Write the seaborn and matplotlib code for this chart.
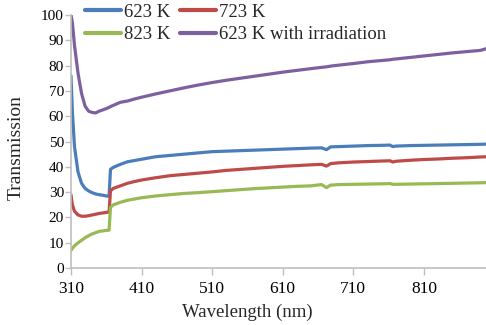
import matplotlib
matplotlib.use("Agg")
import matplotlib.pyplot as plt
import seaborn as sns
import pandas as pd
from matplotlib.lines import Line2D

wavelength = [310, 312, 315, 320, 325, 330, 335, 340, 345, 350, 355, 360, 364, 366, 370, 380, 390, 400, 410,
              430, 450, 470, 490, 510, 530, 550, 570, 590, 610, 630, 650, 665, 672, 678, 690, 710, 730, 750,
              762, 766, 770, 790, 810, 830, 850, 870, 890, 900]

t623 = [76, 62, 48, 38, 33.5, 31.5, 30.5, 29.8, 29.3, 29, 28.8, 28.5, 28.4, 39, 39.8, 41, 42, 42.5, 43,
        44, 44.5, 45, 45.5, 46, 46.2, 46.4, 46.6, 46.8, 47, 47.2, 47.4, 47.5, 46.8, 47.9, 48, 48.2, 48.4, 48.5,
        48.6, 48.0, 48.2, 48.4, 48.5, 48.6, 48.7, 48.8, 48.9, 49]
t723 = [29, 25, 22.5, 21, 20.5, 20.5, 20.7, 21, 21.3, 21.6, 21.8, 22, 22.2, 30.5, 31.5, 32.5, 33.5, 34.2, 34.8,
        35.7, 36.5, 37, 37.5, 38, 38.6, 39, 39.4, 39.8, 40.2, 40.5, 40.8, 41, 40.3, 41.3, 41.6, 41.9, 42.1, 42.3,
        42.4, 41.9, 42.2, 42.6, 42.9, 43.1, 43.4, 43.6, 43.9, 44]
t823 = [7, 7.8, 8.8, 10, 11, 12, 12.8, 13.5, 14, 14.5, 14.7, 14.9, 15.0, 24, 25, 26, 26.8, 27.3, 27.8,
        28.5, 29, 29.5, 29.8, 30.2, 30.6, 31, 31.4, 31.7, 32, 32.3, 32.5, 33, 31.8, 32.8, 33, 33.1, 33.2, 33.3,
        33.4, 33.1, 33.1, 33.2, 33.3, 33.4, 33.5, 33.6, 33.7, 33.8]
t623_irr = [100, 97, 88, 77, 69, 64, 62, 61.5, 61.3, 62, 62.5, 63, 63.5, 63.8, 64.3, 65.5, 66, 66.8, 67.5,
            68.8, 70, 71.2, 72.3, 73.3, 74.2, 75, 75.8, 76.6, 77.4, 78.1, 78.8, 79.3, 79.5, 79.8, 80.2, 80.8, 81.5, 82,
            82.3, 82.5, 82.6, 83.2, 83.8, 84.4, 85, 85.5, 86, 86.8]

series_names = ["623 K", "723 K", "823 K", "623 K with irradiation"]
series_values = [t623, t723, t823, t623_irr]
colors = ["#4a7ebb", "#be4b48", "#98b954", "#7d60a0"]

x_ticks = [310, 410, 510, 610, 710, 810]
y_ticks = list(range(0, 101, 10))

rows = []
for name, vals in zip(series_names, series_values):
    for w, v in zip(wavelength, vals):
        rows.append({"Wavelength": w, "Transmission": v, "Series": name})
df = pd.DataFrame(rows)

sns.set_style("white")
plt.rcParams["font.family"] = ["Liberation Serif", "DejaVu Serif"]

fig = plt.figure(figsize=(4.86, 3.25), dpi=100)
ax = fig.add_axes([0.146, 0.175, 0.854, 0.779])

sns.lineplot(data=df, x="Wavelength", y="Transmission", hue="Series", hue_order=series_names,
             palette=colors, linewidth=2.3, ax=ax, legend=False)

ax.set_xlim(310, 898)
ax.set_ylim(0, 100)
ax.set_xticks(x_ticks)
ax.set_yticks(y_ticks)
ax.tick_params(axis="both", colors="#bfbfbf", labelcolor="black", length=4, width=1,
               direction="out", left=True, bottom=True)
ax.tick_params(axis="x", labelsize=12.5, pad=4, length=5)
ax.tick_params(axis="y", labelsize=11, pad=1)
for s in ["top", "right"]:
    ax.spines[s].set_visible(False)
for s in ["left", "bottom"]:
    ax.spines[s].set_color("#bfbfbf")
    ax.spines[s].set_linewidth(1.2)

ax.set_xlabel("Wavelength (nm)", fontsize=13.5)
ax.set_ylabel("Transmission", fontsize=14)
ax.xaxis.set_label_coords(0.424, -0.142)
ax.yaxis.set_label_coords(-0.111, 0.478)

order = [0, 2, 1, 3]
handles = [Line2D([], [], color=colors[i], linewidth=3) for i in order]
labels = [series_names[i] for i in order]
ax.legend(handles, labels, ncol=2, loc="upper left", bbox_to_anchor=(0.034, 1.045), frameon=False,
          fontsize=13.5, handlelength=1.9, handletextpad=0.15, columnspacing=0.55, labelspacing=0.3,
          borderaxespad=0, borderpad=0)

fig.savefig("out.png", dpi=100)
